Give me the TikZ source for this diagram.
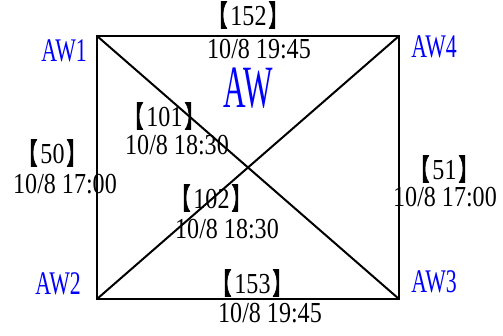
\documentclass[tikz,border=0pt]{standalone}
\usepackage{fontspec}
\setmainfont[FakeStretch=0.83]{Liberation Serif}
\newfontfamily\awfont[FakeStretch=0.66]{Liberation Serif}
\newfontfamily\bigawfont[FakeStretch=0.52]{Liberation Serif}
\newfontfamily\cjkb[FakeStretch=0.66,FakeBold=2]{Noto Sans CJK SC}
\newcommand{\lb}{{\cjkb 【}\kern3pt}
\newcommand{\rb}{\kern2pt{\cjkb 】}}
\begin{document}
\begin{tikzpicture}[x=1pt,y=-1pt,
  edge/.style={line width=2pt,black},
  lbl/.style={anchor=base,inner sep=0pt,font=\fontsize{29}{33}\selectfont,text=black},
  awlbl/.style={anchor=base,inner sep=0pt,font=\awfont\fontsize{33}{37}\selectfont,text=blue},
  bigaw/.style={anchor=base,inner sep=0pt,font=\bigawfont\fontsize{60}{66}\selectfont,text=blue}]
\useasboundingbox (0,0) rectangle (503,336);
\coordinate (c1) at (97,36);
\coordinate (c4) at (399,36);
\coordinate (c3) at (399,299);
\coordinate (c2) at (97,299);
\draw[edge] (c1) -- (c4) -- (c3) -- (c2) -- cycle;
\draw[edge] (c1) -- (c3);
\draw[edge] (c2) -- (c4);
% corner labels
\node[awlbl] (aw1) at (64,62) {AW1};
\node[awlbl] (aw4) at (434,58) {AW4};
\node[awlbl] (aw2) at (58,295) {AW2};
\node[awlbl] (aw3) at (434,293) {AW3};
\node[bigaw] (aw) at (248,108) {AW};
% edge labels
\node[lbl] (n152) at (248,26) {\lb152\rb};
\node[lbl] (t152) at (259,59) {10/8 19:45};
\node[lbl] (n101) at (164,127) {\lb101\rb};
\node[lbl] (t101) at (177,155) {10/8 18:30};
\node[lbl] (n50) at (52,164) {\lb50\rb};
\node[lbl] (t50) at (65,194) {10/8 17:00};
\node[lbl] (n102) at (211,209) {\lb102\rb};
\node[lbl] (t102) at (227,239) {10/8 18:30};
\node[lbl] (n51) at (444,180) {\lb51\rb};
\node[lbl] (t51) at (445,207) {10/8 17:00};
\node[lbl] (n153) at (252,294) {\lb153\rb};
\node[lbl] (t153) at (270,323) {10/8 19:45};
\end{tikzpicture}
\end{document}
